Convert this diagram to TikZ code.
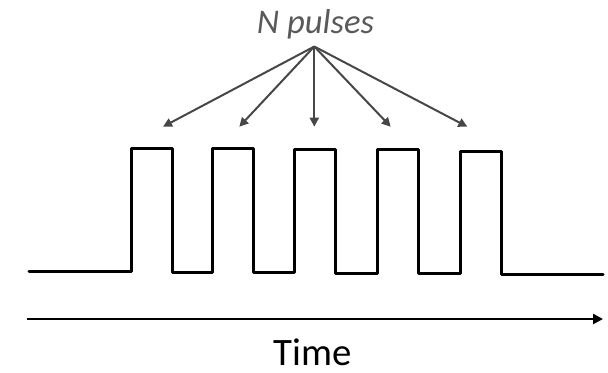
\documentclass[tikz,border=0pt]{standalone}
\usepackage{fontspec}
\setmainfont{Carlito}
\usetikzlibrary{arrows.meta}
\definecolor{arrowgray}{HTML}{474747}
\definecolor{textgray}{HTML}{595959}
\tikzset{
  pointer/.style={draw=arrowgray, line width=1pt, -{Triangle[length=4.5pt,width=4.5pt]}},
  wave/.style={draw=black, line width=1.5pt, line join=round, line cap=round},
  timeaxis/.style={draw=black, line width=1.2pt, -{Triangle[length=5pt,width=5pt]}},
  lbl/.style={inner sep=0pt, anchor=base}
}
\begin{document}
\begin{tikzpicture}[x=0.5pt,y=-0.5pt]
\useasboundingbox (0,0) rectangle (608,372);
\node[lbl, text=textgray, font=\fontsize{17.3}{19}\selectfont\itshape] (np) at (315.5,33) {N pulses};
\coordinate (apex) at (314.3,46.5);
\coordinate (t1) at (163,126.7);
\coordinate (t2) at (239.3,126.7);
\coordinate (t3) at (314.3,126.7);
\coordinate (t4) at (390.7,126.7);
\coordinate (t5) at (467.3,126.7);
\foreach \t in {t1,t2,t3,t4,t5} \draw[pointer] (apex) -- (\t);
\draw[wave] (29,271.5) -- (131,271.5) -- (131,148.3) -- (172.3,148.3) -- (172.3,272)
  -- (212.3,272) -- (212.3,148.3) -- (253.3,148.3) -- (253.3,272.5)
  -- (294.3,272.5) -- (294.3,149.3) -- (335,149.3) -- (335,273.3)
  -- (377.7,273.3) -- (377.7,149.6) -- (418.3,149.6) -- (418.3,273.5)
  -- (460,273.5) -- (460,151.3) -- (501.7,151.3) -- (501.7,274) -- (603,274);
\coordinate (tstart) at (27,319);
\coordinate (tend) at (603,319);
\draw[timeaxis] (tstart) -- (tend);
\node[lbl, font=\fontsize{19.4}{22}\selectfont] (time) at (313,365.5) {Time};
\end{tikzpicture}
\end{document}
